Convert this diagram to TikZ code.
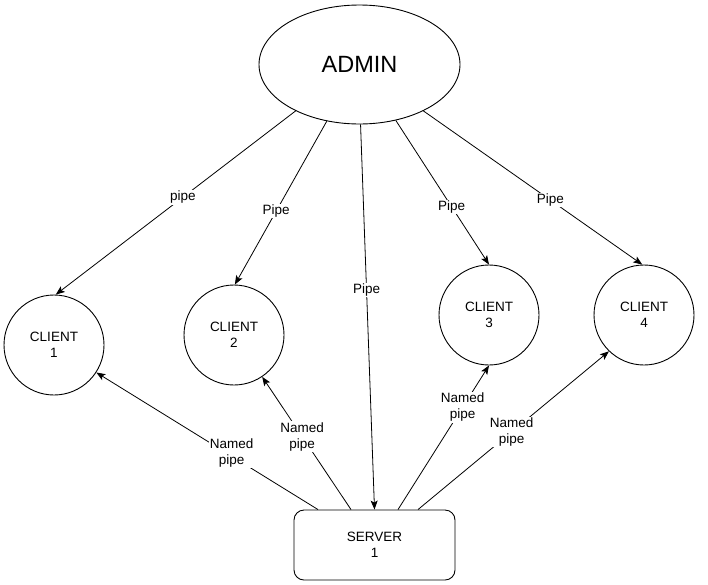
\documentclass[tikz,border=0pt]{standalone}
\usepackage{fontspec}
\setmainfont{Liberation Sans}
\usetikzlibrary{shapes.geometric,arrows.meta,calc}
\begin{document}
\begin{tikzpicture}[x=1pt,y=-1pt,
  every node/.style={font=\fontsize{13.5}{16}\selectfont, align=center},
  clientnode/.style={circle,draw,line width=0.9pt,minimum size=100pt,inner sep=0pt},
  conn/.style={draw,line width=0.8pt,-{Stealth[length=9pt,width=7pt,inset=2pt]}},
  lbl/.style={fill=white,inner sep=1pt}]
\useasboundingbox (0,0) rectangle (708,584);
\node[ellipse,draw,line width=0.9pt,minimum width=201pt,minimum height=119pt,inner sep=0pt,font=\fontsize{23.5}{28}\selectfont] (admin) at (359.5,64.5) {ADMIN};
\node[clientnode] (c1) at (54,345) {CLIENT\\1};
\node[clientnode] (c2) at (234,335) {CLIENT\\2};
\node[clientnode] (c3) at (489,315) {CLIENT\\3};
\node[clientnode] (c4) at (644,315) {CLIENT\\4};
\node[rectangle,draw,line width=0.9pt,rounded corners=10pt,minimum width=161pt,minimum height=70pt] (server) at (374.5,545) {SERVER\\1};
% admin edges
\path[conn] (admin.216) -- node[lbl,pos=0.47] {pipe} (c1.88);
\path[conn] (admin.240.5) -- node[lbl,pos=0.55] {Pipe} (c2.89);
\path[conn] (admin.271.4) -- node[lbl,pos=0.43] {Pipe} (server.north);
\path[conn] (admin.303) -- node[lbl,pos=0.6] {Pipe} (c3.90);
\path[conn] (admin.324) -- node[lbl,pos=0.58] {Pipe} (c4.92);
% server edges
\path[conn] ([xshift=-56.5pt]server.north) -- node[lbl,pos=0.39,yshift=3pt] {Named\\pipe} (c1.-33);
\path[conn] ([xshift=-23.5pt]server.north) -- node[lbl,pos=0.55] {Named\\pipe} (c2.-56);
\path[conn] ([xshift=23.5pt]server.north) -- node[lbl,pos=0.71] {Named\\pipe} (c3.270);
\path[conn] ([xshift=43.5pt]server.north) -- node[lbl,pos=0.49] {Named\\pipe} (c4.226);
\end{tikzpicture}
\end{document}
